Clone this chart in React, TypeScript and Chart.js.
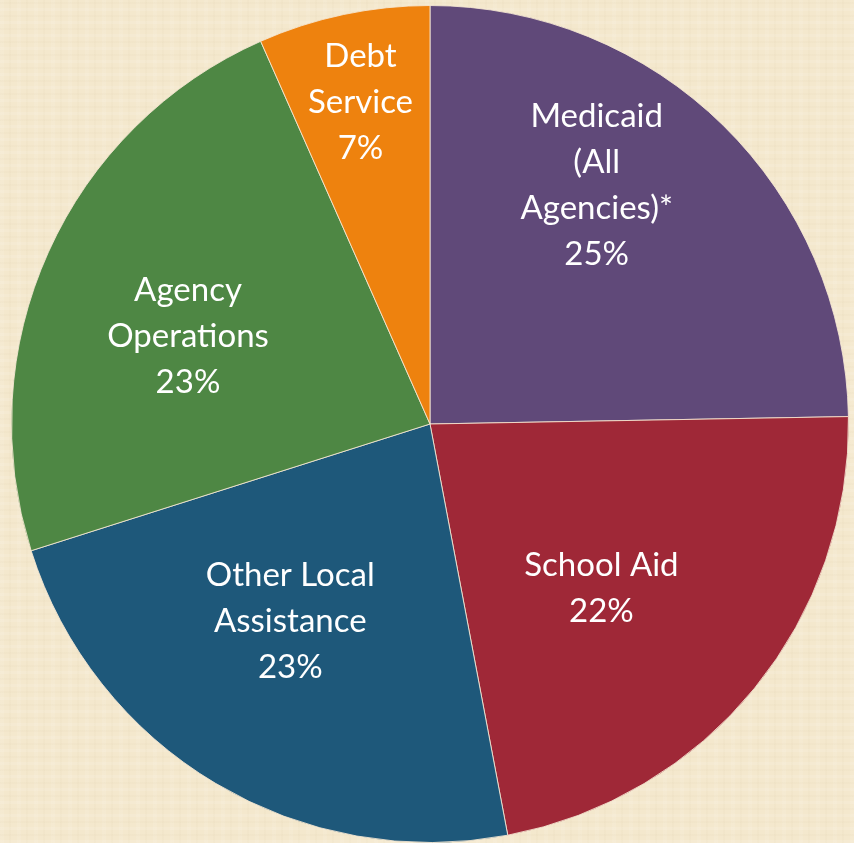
import React, { useEffect, useRef } from "react";
import { Chart, registerables } from "chart.js";

Chart.register(...registerables);

// ---- data ----
const categories = [
  "Medicaid (All Agencies)*",
  "School Aid",
  "Other Local Assistance",
  "Agency Operations",
  "Debt Service",
];
const labelLines: string[][] = [
  ["Medicaid", "(All", "Agencies)*"],
  ["School Aid"],
  ["Other Local", "Assistance"],
  ["Agency", "Operations"],
  ["Debt", "Service"],
];
const shares = [24.72, 22.31, 23.08, 23.27, 6.63];

// ---- style ----
const sliceColors = ["#604979", "#9F2837", "#1E587A", "#4E8744", "#EE820E"];
// label placement: fraction of radius, angular offset (deg, clockwise) from slice mid-angle
const labelRadius = [0.698, 0.566, 0.576, 0.616, 0.79];
const labelAngleOffset = [-9.7, 4.5, 4.6, -4.1, -0.2];
const FONT = "Lato, 'Open Sans', sans-serif";
const FONT_SIZE = 33;
const LINE_H = 46;

const labelPlugin = {
  id: "sliceLabels",
  afterDatasetsDraw(chart: any) {
    const ctx = chart.ctx as CanvasRenderingContext2D;
    const meta = chart.getDatasetMeta(0);
    const values = chart.data.datasets[0].data as number[];
    ctx.save();
    ctx.font = `${FONT_SIZE}px ${FONT}`;
    ctx.fillStyle = "#FFFFFF";
    ctx.textAlign = "center";
    ctx.textBaseline = "alphabetic";
    const capH = ctx.measureText("H").actualBoundingBoxAscent || FONT_SIZE * 0.72;
    meta.data.forEach((arc: any, i: number) => {
      const p = arc.getProps(["x", "y", "startAngle", "endAngle", "outerRadius"], true);
      const mid = (p.startAngle + p.endAngle) / 2 + (labelAngleOffset[i] * Math.PI) / 180;
      const r = p.outerRadius * labelRadius[i];
      const cx = p.x + Math.cos(mid) * r;
      const cy = p.y + Math.sin(mid) * r;
      const lines = [...labelLines[i], `${Math.round(values[i])}%`];
      const n = lines.length;
      const blockH = (n - 1) * LINE_H + capH;
      const firstBase = cy - blockH / 2 + capH;
      lines.forEach((t, k) => ctx.fillText(t, cx, firstBase + k * LINE_H));
    });
    ctx.restore();
  },
};

export default function App() {
  const ref = useRef<HTMLCanvasElement | null>(null);
  useEffect(() => {
    if (!ref.current) return;
    const chart = new Chart(ref.current, {
      type: "pie",
      data: {
        labels: categories,
        datasets: [
          {
            data: shares,
            backgroundColor: sliceColors,
            borderColor: "rgba(246,232,212,0.85)",
            borderWidth: 1,
          },
        ],
      },
      options: {
        responsive: false,
        animation: false,
        devicePixelRatio: 1,
        layout: { padding: { left: 11, right: 5, top: 5, bottom: 0 } },
        plugins: {
          legend: { display: false },
          tooltip: { enabled: false },
        },
      },
      plugins: [labelPlugin],
    });
    return () => chart.destroy();
  }, []);

  return (
    <div
      style={{
        position: "fixed",
        left: 0,
        top: 0,
        width: 854,
        height: 843,
        overflow: "hidden",
        backgroundColor: "#F4E8CD",
        backgroundImage:
          "repeating-linear-gradient(0deg, rgba(255,255,255,0.10) 0px, rgba(255,255,255,0.10) 3px, rgba(0,0,0,0) 3px, rgba(0,0,0,0) 7px, rgba(200,180,140,0.05) 7px, rgba(200,180,140,0.05) 9px, rgba(0,0,0,0) 9px, rgba(0,0,0,0) 13px)," +
          "repeating-linear-gradient(90deg, rgba(255,255,255,0.08) 0px, rgba(255,255,255,0.08) 4px, rgba(0,0,0,0) 4px, rgba(0,0,0,0) 9px, rgba(200,180,140,0.05) 9px, rgba(200,180,140,0.05) 11px, rgba(0,0,0,0) 11px, rgba(0,0,0,0) 17px)",
      }}
    >
      <canvas ref={ref} width={854} height={843} style={{ display: "block" }} />
    </div>
  );
}
